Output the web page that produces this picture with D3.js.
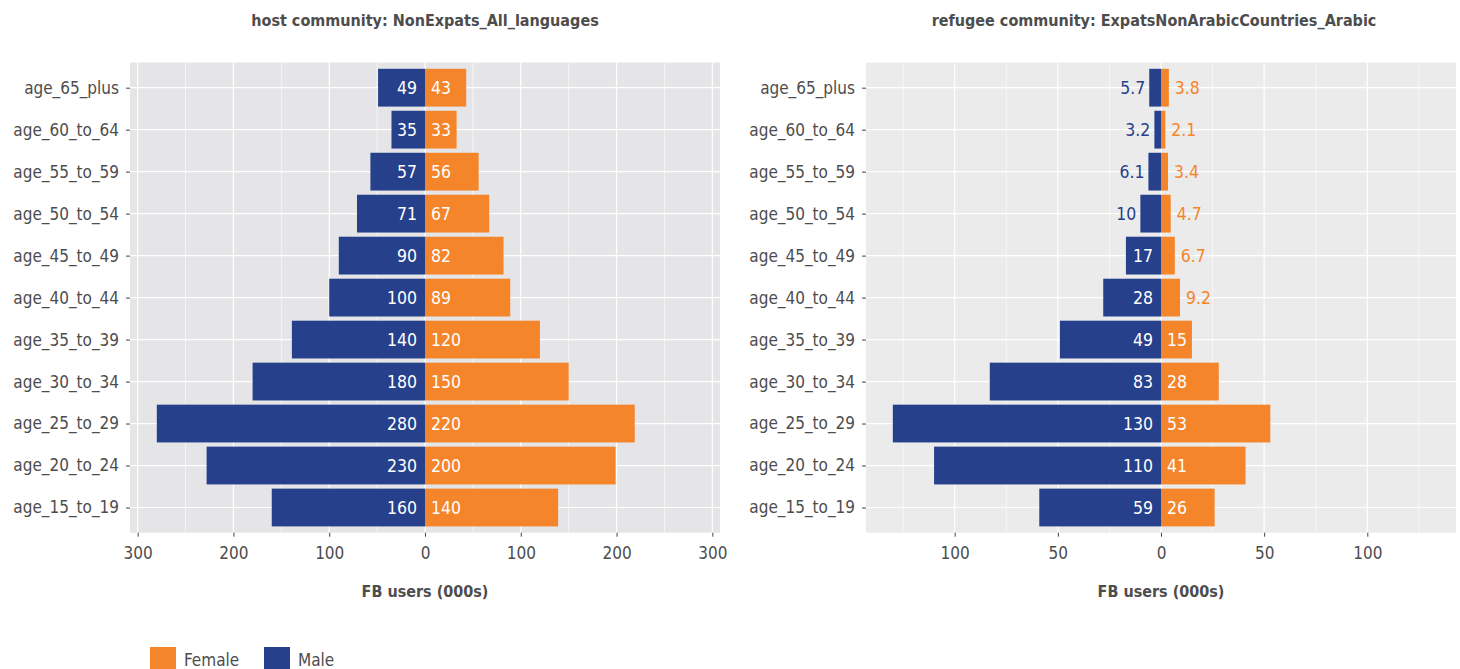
<!DOCTYPE html>
<html>
<head>
<meta charset="utf-8">
<script src="https://cdn.jsdelivr.net/npm/d3@7"></script>
<style>
  html, body { margin: 0; padding: 0; background: #ffffff; }
  svg { display: block; }
  text { font-family: "Liberation Sans Narrow", "DejaVu Sans Condensed", "Roboto Condensed", "Arial Narrow", sans-serif; }
</style>
</head>
<body>
<svg id="chart" width="1460" height="669"></svg>
<script>
// ---------------- DATA ----------------
const categories = ["age_65_plus", "age_60_to_64", "age_55_to_59", "age_50_to_54", "age_45_to_49",
  "age_40_to_44", "age_35_to_39", "age_30_to_34", "age_25_to_29", "age_20_to_24", "age_15_to_19"];

const hostTitle = "host community: NonExpats_All_languages";
const hostMale   = [49, 35, 57, 71, 90, 100, 139, 180, 280, 228, 160];
const hostFemale = [43, 33, 56, 67, 82, 89, 120, 150, 219, 199, 139];
const hostTicks  = [-300, -200, -100, 0, 100, 200, 300];
const hostMinor  = [-250, -150, -50, 50, 150, 250];

const refTitle = "refugee community: ExpatsNonArabicCountries_Arabic";
const refMale   = [5.7, 3.2, 6.1, 10, 17, 28, 49, 83, 130, 110, 59];
const refFemale = [3.8, 2.1, 3.4, 4.7, 6.7, 9.2, 15, 28, 53, 41, 26];
const refTicks  = [-100, -50, 0, 50, 100];
const refMinor  = [-125, -75, -25, 25, 75, 125];

const legendKeys = ["Female", "Male"];
const xTitle = "FB users (000s)";

// ---------------- STYLE ----------------
const MALE = "#26408B";
const FEMALE = "#F5852A";
const TEXT = "#4D4D4D";

const svg = d3.select("#chart");
const fmt = d3.format(".2r");
function lab(v) { return (+fmt(v)).toString(); }

function drawPanel(o) {
  const g = svg.append("g");
  const x = d3.scaleLinear()
    .domain([-1.1 * d3.max(o.male), 1.1 * d3.max(o.male)])
    .range([o.x0, o.x1]);
  const y = d3.scalePoint().domain(categories).range([o.y0, o.y1]).padding(0.6);
  const bh = y.step() * 0.9;

  g.append("rect").attr("x", o.x0).attr("y", o.y0)
    .attr("width", o.x1 - o.x0).attr("height", o.y1 - o.y0).attr("fill", o.bg);

  g.selectAll(".minor").data(o.minor).join("line")
    .attr("x1", d => x(d)).attr("x2", d => x(d))
    .attr("y1", o.y0).attr("y2", o.y1)
    .attr("stroke", "#fff").attr("stroke-width", 0.6);
  g.selectAll(".majx").data(o.ticks).join("line")
    .attr("x1", d => x(d)).attr("x2", d => x(d))
    .attr("y1", o.y0).attr("y2", o.y1)
    .attr("stroke", "#fff").attr("stroke-width", 1.2);
  g.selectAll(".majy").data(categories).join("line")
    .attr("x1", o.x0).attr("x2", o.x1)
    .attr("y1", d => y(d)).attr("y2", d => y(d))
    .attr("stroke", "#fff").attr("stroke-width", 1.2);

  const rows = categories.map((c, i) => ({ c, m: o.male[i], f: o.female[i] }));
  g.selectAll(".mb").data(rows).join("rect")
    .attr("x", d => x(-d.m)).attr("width", d => x(0) - x(-d.m))
    .attr("y", d => y(d.c) - bh / 2).attr("height", bh)
    .attr("fill", MALE);
  g.selectAll(".fb").data(rows).join("rect")
    .attr("x", x(0)).attr("width", d => x(d.f) - x(0))
    .attr("y", d => y(d.c) - bh / 2).attr("height", bh)
    .attr("fill", FEMALE);

  const fs = 17.5;
  rows.forEach(d => {
    const mt = g.append("text").text(lab(d.m))
      .attr("y", y(d.c)).attr("dy", "0.38em")
      .attr("font-size", fs).attr("text-anchor", "end");
    const mw = mt.node().getComputedTextLength();
    const mBar = x(0) - x(-d.m);
    if (mw + 12 < mBar) {
      mt.attr("x", x(0) - 8).attr("fill", "#fff");
    } else {
      mt.attr("x", x(-d.m) - 4).attr("fill", MALE);
    }
    const ft = g.append("text").text(lab(d.f))
      .attr("y", y(d.c)).attr("dy", "0.38em")
      .attr("font-size", fs).attr("text-anchor", "start");
    const fw = ft.node().getComputedTextLength();
    const fBar = x(d.f) - x(0);
    if (fw + 8 < fBar) {
      ft.attr("x", x(0) + 6).attr("fill", "#fff");
    } else {
      ft.attr("x", x(d.f) + 6).attr("fill", FEMALE);
    }
  });

  const xa = g.append("g").attr("transform", `translate(0,${o.y1})`)
    .call(d3.axisBottom(x).tickValues(o.ticks).tickFormat(d => Math.abs(d)).tickSize(4).tickPadding(6));
  const ya = g.append("g").attr("transform", `translate(${o.x0},0)`)
    .call(d3.axisLeft(y).tickSize(4).tickPadding(7));
  [xa, ya].forEach(a => {
    a.select(".domain").remove();
    a.selectAll(".tick line").attr("stroke", "#444").attr("stroke-width", 1);
    a.selectAll(".tick text").attr("fill", TEXT).attr("font-size", 17)
      .style("font-family", null);
  });
  xa.selectAll(".tick text").attr("dy", "0.95em");

  g.append("text").text(o.title)
    .attr("x", o.titleX).attr("y", 26).attr("text-anchor", "middle")
    .attr("font-size", 16).attr("font-weight", "bold").attr("fill", TEXT);
  g.append("text").text(xTitle)
    .attr("x", (o.x0 + o.x1) / 2).attr("y", 597).attr("text-anchor", "middle")
    .attr("font-size", 16).attr("font-weight", "bold").attr("fill", TEXT);
}

drawPanel({ x0: 130, x1: 720, y0: 62.5, y1: 532.7, bg: "#E5E5E7",
  male: hostMale, female: hostFemale, ticks: hostTicks, minor: hostMinor,
  title: hostTitle, titleX: 425 });
drawPanel({ x0: 866, x1: 1456, y0: 62.5, y1: 532.7, bg: "#EBEBEB",
  male: refMale, female: refFemale, ticks: refTicks, minor: refMinor,
  title: refTitle, titleX: 1154 });

// legend
const legColor = d3.scaleOrdinal().domain(legendKeys).range([FEMALE, MALE]);
const leg = svg.append("g");
const lx = d3.scalePoint().domain(legendKeys).range([150, 264]);
legendKeys.forEach(k => {
  leg.append("rect").attr("x", lx(k)).attr("y", 647).attr("width", 26).attr("height", 26)
    .attr("fill", legColor(k));
  leg.append("text").text(k).attr("x", lx(k) + 34).attr("y", 666)
    .attr("font-size", 17).attr("fill", TEXT);
});
</script>
</body>
</html>
